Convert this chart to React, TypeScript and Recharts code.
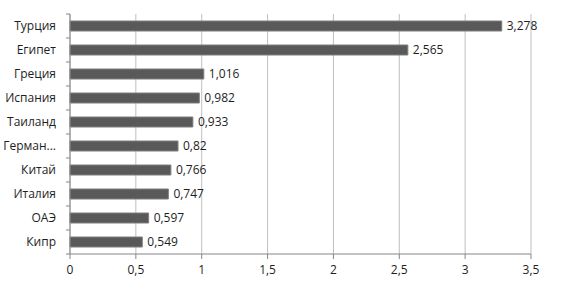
import React from "react";
import {
    BarChart,
    Bar,
    XAxis,
    YAxis,
    CartesianGrid,
    LabelList,
} from "recharts";

const countries = [
    "Турция",
    "Египет",
    "Греция",
    "Испания",
    "Таиланд",
    "Герман...",
    "Китай",
    "Италия",
    "ОАЭ",
    "Кипр",
];
const values = [3.278, 2.565, 1.016, 0.982, 0.933, 0.82, 0.766, 0.747, 0.597, 0.549];
const xTicks = [0, 0.5, 1, 1.5, 2, 2.5, 3, 3.5];

const data = countries.map((name, i) => ({ name, value: values[i] }));

const comma = (v: any) => String(v).replace(".", ",");
const FONT = "'Open Sans', sans-serif";
const AXIS = "#868686";
const TEXT = "#1e1e1e";

const CategoryTick = (props: any) => {
    const { x, y, payload, index } = props;
    const half = 12;
    return (
        <g>
            <line x1={70} x2={66} y1={y - half} y2={y - half} stroke={AXIS} />
            {index === countries.length - 1 && (
                <line x1={70} x2={66} y1={y + half} y2={y + half} stroke={AXIS} />
            )}
            <text
                x={x - 6}
                y={y}
                dy="0.35em"
                textAnchor="end"
                fontSize={12}
                fontFamily={FONT}
                fill={TEXT}
            >
                {payload.value}
            </text>
        </g>
    );
};

const App = () => {
    return (
        <div style={{ position: "absolute", left: 0, top: 0 }}>
            <BarChart
                width={561}
                height={288}
                data={data}
                layout="vertical"
                margin={{ top: 14, right: 30, bottom: 0, left: 0 }}
            >
                <CartesianGrid horizontal={false} stroke="#bfbfbf" />
                <XAxis
                    type="number"
                    domain={[0, 3.5]}
                    ticks={xTicks}
                    tickFormatter={comma}
                    height={34}
                    stroke={AXIS}
                    tickSize={5}
                    tickMargin={6}
                    tick={{ fontSize: 12, fontFamily: FONT, fill: TEXT }}
                    interval={0}
                />
                <YAxis
                    type="category"
                    dataKey="name"
                    width={70}
                    stroke={AXIS}
                    tickLine={false}
                    tick={<CategoryTick />}
                    interval={0}
                />
                <Bar
                    dataKey="value"
                    fill="#595959"
                    stroke="#7f7f7f"
                    strokeWidth={1}
                    barSize={10}
                    isAnimationActive={false}
                >
                    <LabelList
                        dataKey="value"
                        position="right"
                        offset={5}
                        formatter={comma}
                        style={{ fontSize: 12, fontFamily: FONT, fill: TEXT }}
                    />
                </Bar>
            </BarChart>
        </div>
    );
};

export default App;
